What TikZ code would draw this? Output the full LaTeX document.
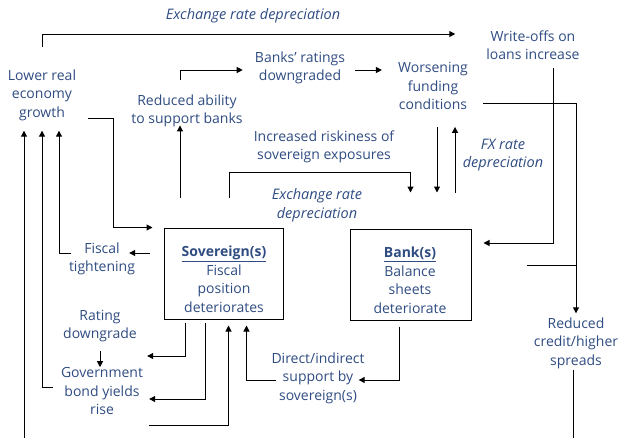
\documentclass[tikz,border=0pt]{standalone}
\usepackage{fontspec}
\setmainfont{Open Sans}
\usepackage{tikz}
\usetikzlibrary{arrows.meta}
\definecolor{chainblue}{RGB}{47,76,130}

\begin{document}
\begin{tikzpicture}[x=1pt,y=-1pt,
	txt/.style={text=chainblue, align=center, inner sep=1pt, font=\fontsize{14}{18.5}\selectfont},
	ital/.style={txt, font=\fontsize{14.5}{18.5}\selectfont\itshape},
	box/.style={draw, line width=1pt, minimum width=119pt, minimum height=91pt},
	arr/.style={-{Triangle[length=6pt,width=6pt]}, line width=1pt},
	ln/.style={line width=1pt}]
	%\draw[help lines, step=50] (0,0) grid (619,437);
	\useasboundingbox (0,0) rectangle (619,437);
	\node[ital] (xrtop) at (253,16) {Exchange rate depreciation};
	\node[txt] (writeoffs) at (533,45) {Write-offs on\\loans increase};
	\node[txt] (lower) at (42,95) {Lower real\\economy\\growth};
	\node[txt] (ratings) at (300,68) {Banks’ ratings\\downgraded};
	\node[txt] (worsening) at (433,86) {Worsening\\funding\\conditions};
	\node[txt] (ability) at (187,111) {Reduced ability\\to support banks};
	\node[txt] (riskiness) at (324,147) {Increased riskiness of\\sovereign exposures};
	\node[ital] (fxdep) at (503,155) {FX rate\\depreciation};
	\node[ital] (xrmid) at (317,205) {Exchange rate\\depreciation};
	\node[box] (sov) at (223.5,273.5) {};
	\node[txt] (sovtxt) at (224,279) {\underline{\textbf{Sovereign(s)}}\\Fiscal\\position\\deteriorates};
	\node[box, minimum width=121pt] (bank) at (410.5,274.5) {};
	\node[txt] (banktxt) at (410,280) {\underline{\textbf{Bank(s)}}\\Balance\\sheets\\deteriorate};
	\node[txt] (fiscal) at (102,259) {Fiscal\\tightening};
	\node[txt] (rating) at (100,326) {Rating\\downgrade};
	\node[txt] (govt) at (102,391) {Government\\bond yields\\rise};
	\node[txt] (direct) at (318,378) {Direct/indirect\\support by\\sovereign(s)};
	\node[txt] (credit) at (576,343) {Reduced\\credit/higher\\spreads};
	\coordinate (bottom) at (0,440);
	\coordinate (colA) at (24,0);
	\coordinate (colC) at (59,0);
	\coordinate (dn) at (437,0);
	\coordinate (up) at (455,0);
	\coordinate (lgA) at (88,118);
	\coordinate (ftA) at (71,253);
	\coordinate (gvA) at (53,387);
	\coordinate (abTop) at (180,80);
	\coordinate (abBot) at (180,198);
	\coordinate (riskA) at (229,198);
	\coordinate (wfc) at (483,103);
	\coordinate (woA) at (553,68);
	\coordinate (brA) at (527,265);
	\coordinate (row1) at (0,356);
	\coordinate (row2) at (0,399);
	\coordinate (row3) at (0,425);
	\draw[arr, shorten >=30] (lower.north |- 0,47) |- (writeoffs.west |- 0,34);
	\draw[arr, shorten >=11] (abTop) |- (ratings.west |- 0,70);
	\draw[arr, shorten <=9, shorten >=15] (ratings.east |- 0,70) -- (worsening.west |- 0,70);
	\draw[arr, shorten >=-3] (abBot) -- (abBot |- ability.south);
	\draw[arr, shorten >=36] (riskA) |- (bank.north |- 0,172) -- (bank.north);
	\draw[arr, shorten <=16, shorten >=36] (dn |- worsening.south) -- (dn |- bank.north);
	\draw[arr, shorten <=36, shorten >=16] (up |- bank.north) -- (up |- worsening.south);
	\draw[arr, shorten >=3] (wfc) -| (credit.north);
	\draw[arr, shorten >=12] (woA) |- (bank.east |- 0,243);
	\draw[ln] (brA) -- (brA -| credit.north);
	\draw[ln] ([xshift=-3]credit.south) -- ++(0,70);
	\draw[arr, shorten >=11] (lgA) -| ([xshift=-50]sov.north west) -- (sov.north west);
	\draw[arr, shorten >=9] (colA |- bottom) -- (colA |- lower.south);
	\draw[arr, shorten >=9] (gvA) -| (lower.south);
	\draw[arr, shorten >=9] (ftA) -| (colC |- lower.south);
	\draw[arr, shorten <=14, shorten >=-7] (sov.west |- ftA) -- (fiscal.east |- ftA);
	\draw[arr, shorten <=8, shorten >=-1] (rating.south) -- (rating.south |- govt.north);
	\draw[arr, shorten <=3, shorten >=3] ([xshift=22]sov.south west) |- (govt.east |- row1);
	\draw[arr, shorten <=3, shorten >=5] ([xshift=42]sov.south west) |- (govt.east |- row2);
	\draw[arr, shorten <=5, shorten >=6] (govt.east |- row3) -| ([xshift=65]sov.south west);
	\draw[arr, shorten <=-6, shorten >=6] (direct.west |- 0,380) -| ([xshift=83]sov.south west);
	\draw[arr, shorten <=6, shorten >=-7] ([xshift=-11.5]bank.south) |- (direct.east |- 0,380);
\end{tikzpicture}
\end{document}
